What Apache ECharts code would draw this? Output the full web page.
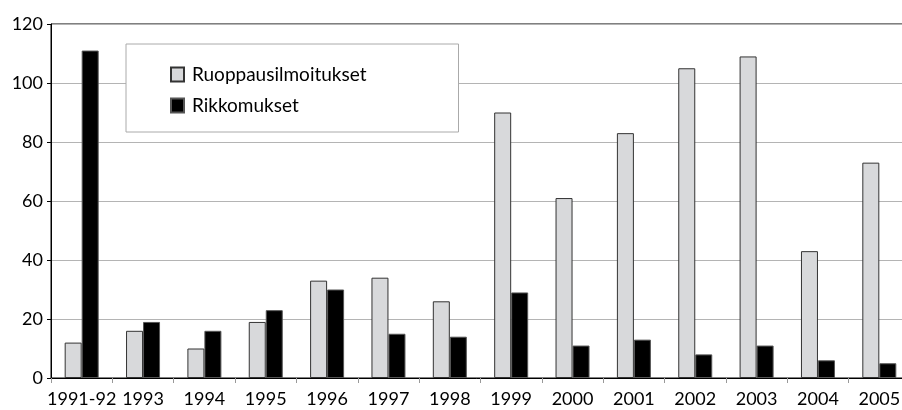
<html>
<head>
<meta charset="utf-8">
<title>Ruoppausilmoitukset ja rikkomukset</title>
<script src="https://cdn.jsdelivr.net/npm/echarts@6/dist/echarts.min.js"></script>
<style>
  html, body { margin: 0; padding: 0; background: #fff; }
  #chart { width: 902px; height: 410px; }
</style>
</head>
<body>
<div id="chart"></div>
<script>
// vuodet
var years = ['1991-92', '1993', '1994', '1995', '1996', '1997', '1998',
             '1999', '2000', '2001', '2002', '2003', '2004', '2005'];
// ruoppausilmoitukset (harmaa)
var ruoppaus = [12, 16, 10, 19, 33, 34, 26, 90, 61, 83, 105, 109, 43, 73];
// rikkomukset (musta)
var rikkomukset = [111, 19, 16, 23, 30, 15, 14, 29, 11, 13, 8, 11, 6, 5];
var yTicks = [0, 20, 40, 60, 80, 100, 120];

var font = 'Lato, "Open Sans", sans-serif';

var option = {
    animation: false,
    backgroundColor: '#fff',
    grid: {
        // kuvaaja jatkuu hieman oikean reunan yli
        left: 51, top: 24, bottom: 32, width: 859,
        outerBoundsMode: 'none',
        containLabel: false,
        show: true, borderColor: '#000', borderWidth: 1
    },
    legend: {
        orient: 'vertical',
        left: 126, top: 44,
        padding: [21, 92, 17, 44],
        itemGap: 12,
        itemWidth: 13, itemHeight: 14,
        icon: 'rect',
        borderColor: '#aaa', borderWidth: 1,
        backgroundColor: '#fff',
        textStyle: { fontFamily: font, fontSize: 19, color: '#000', padding: [0, 0, 0, 3] },
        data: ['Ruoppausilmoitukset', 'Rikkomukset']
    },
    xAxis: {
        type: 'category',
        data: years,
        axisLine: { lineStyle: { color: '#000', width: 1 } },
        axisTick: { show: true, length: 5, lineStyle: { color: '#999' } },
        axisLabel: { fontFamily: font, fontSize: 18, color: '#000', margin: 12, interval: 0 }
    },
    yAxis: {
        type: 'value',
        min: yTicks[0], max: yTicks[yTicks.length - 1], interval: 20,
        axisLine: { show: true, lineStyle: { color: '#000', width: 1 } },
        axisTick: { show: true, length: 4, lineStyle: { color: '#000' } },
        axisLabel: { fontFamily: font, fontSize: 18, color: '#000', margin: 8 },
        splitLine: { show: true, lineStyle: { color: '#b4b4b4', width: 1 } }
    },
    series: [
        {
            name: 'Ruoppausilmoitukset',
            type: 'bar',
            data: ruoppaus,
            barWidth: 17,
            barGap: '0%',
            itemStyle: { color: '#d8d9db', borderColor: '#333', borderWidth: 1 }
        },
        {
            name: 'Rikkomukset',
            type: 'bar',
            data: rikkomukset,
            barWidth: 17,
            barGap: '0%',
            itemStyle: { color: '#000', borderColor: '#555', borderWidth: 1 }
        }
    ]
};

var chart = echarts.init(document.getElementById('chart'));
chart.setOption(option);
</script>
</body>
</html>
